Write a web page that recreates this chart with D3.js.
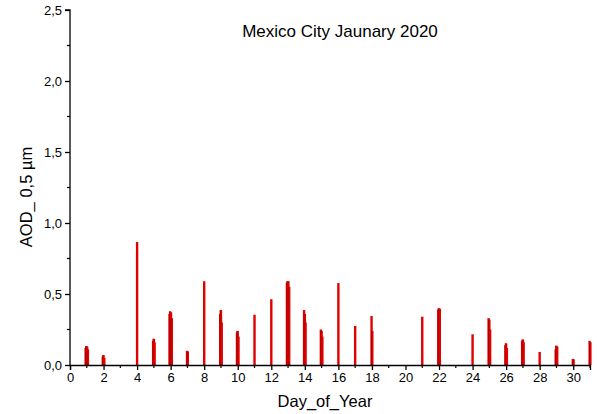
<!DOCTYPE html>
<html>
<head>
<meta charset="utf-8">
<script src="https://cdn.jsdelivr.net/npm/d3@7"></script>
<style>
body { margin: 0; background: #fff; }
text { font-family: "Liberation Sans", Arial, sans-serif; fill: #000; }
</style>
</head>
<body>
<svg id="chart" width="597" height="414"></svg>
<script>
// Days of January 2020 with measurements
const days = [1, 2, 4, 5, 6, 7, 8, 9, 10, 11, 12, 13, 14, 15, 16, 17, 18, 21, 22, 24, 25, 26, 27, 28, 29, 30, 31];
// AOD readings per day (several observations within each day)
const readings = [
  [0.12, 0.134, 0.13, 0.11],
  [0.06, 0.07, 0.05],
  [0.866],
  [0.17, 0.185, 0.16],
  [0.36, 0.378, 0.37, 0.33],
  [0.10, 0.095],
  [0.59],
  [0.36, 0.387, 0.30],
  [0.23, 0.24, 0.20],
  [0.354],
  [0.463],
  [0.58, 0.59, 0.59, 0.55],
  [0.387, 0.36, 0.30],
  [0.25, 0.24, 0.20],
  [0.577],
  [0.275],
  [0.345, 0.24],
  [0.34],
  [0.39, 0.40, 0.395],
  [0.216],
  [0.33, 0.32, 0.25],
  [0.14, 0.153, 0.12],
  [0.17, 0.18, 0.16],
  [0.092],
  [0.11, 0.136, 0.13],
  [0.042, 0.04],
  [0.17, 0.16]
];
// fraction of day between consecutive readings
const readingStep = 0.045;
const xTicks = d3.range(0, 31, 2);
const yTicks = [0, 0.5, 1.0, 1.5, 2.0, 2.5];
const title = "Mexico City Jaunary 2020";
const xTitle = "Day_of_Year";
const yTitle = "AOD_ 0,5 µm";

const svg = d3.select("#chart");
const m = { left: 70, right: 590, top: 10, bottom: 365 };
const x = d3.scaleLinear().domain([0, 31]).range([m.left, m.right]);
const y = d3.scaleLinear().domain([0, 2.5]).range([m.bottom, m.top]);

const obs = [];
days.forEach((d, i) => {
  const n = readings[i].length;
  readings[i].forEach((v, j) => {
    obs.push({ t: d + (j - (n - 1) / 2) * readingStep, v: v, j: j });
  });
});

const g = svg.append("g");
g.selectAll("line.r").data(obs).enter().append("line")
  .attr("x1", d => x(d.t)).attr("x2", d => x(d.t))
  .attr("y1", y(0)).attr("y2", d => y(d.v))
  .attr("stroke", "#e00000").attr("stroke-width", 2.4);
g.selectAll("line.d").data(obs.filter(d => d.j % 2 === 1)).enter().append("line")
  .attr("x1", d => x(d.t) - 0.8).attr("x2", d => x(d.t) - 0.8)
  .attr("y1", y(0)).attr("y2", d => y(d.v))
  .attr("stroke", "#9a0000").attr("stroke-width", 0.9).attr("opacity", 0.8);

// X axis
const xAxis = d3.axisBottom(x).tickValues(xTicks).tickSize(5).tickPadding(3).tickFormat(d3.format("d"));
const xg = svg.append("g").attr("transform", `translate(0,${m.bottom})`).call(xAxis);
xg.select(".domain").attr("stroke-width", 1.3);
xg.selectAll(".tick line").attr("stroke-width", 1.3);
xg.selectAll("text").attr("font-size", 13).attr("font-family", "Liberation Sans, Arial, sans-serif");
const xMinor = d3.range(1, 32, 2);
svg.append("g").selectAll("line").data(xMinor).enter().append("line")
  .attr("x1", d => x(d)).attr("x2", d => x(d))
  .attr("y1", m.bottom).attr("y2", m.bottom + 3)
  .attr("stroke", "#000").attr("stroke-width", 1.2);

// Y axis
const yAxis = d3.axisLeft(y).tickValues(yTicks).tickSize(5).tickPadding(3).tickFormat(d => d3.format(".1f")(d).replace(".", ","));
const yg = svg.append("g").attr("transform", `translate(${m.left},0)`).call(yAxis);
yg.select(".domain").attr("stroke-width", 1.3).attr("d", `M-5,${m.top}H0V${m.bottom}`);
yg.selectAll(".tick line").attr("stroke-width", 1.3);
yg.selectAll("text").attr("font-size", 13).attr("font-family", "Liberation Sans, Arial, sans-serif");
const yMinor = [0.25, 0.75, 1.25, 1.75, 2.25];
svg.append("g").selectAll("line").data(yMinor).enter().append("line")
  .attr("x1", m.left - 3).attr("x2", m.left)
  .attr("y1", d => y(d)).attr("y2", d => y(d))
  .attr("stroke", "#000").attr("stroke-width", 1.2);

// Titles
svg.append("text").attr("x", 340).attr("y", 37).attr("text-anchor", "middle")
  .attr("font-size", 17).text(title);
svg.append("text").attr("x", 325).attr("y", 407).attr("text-anchor", "middle")
  .attr("font-size", 16.5).text(xTitle);
svg.append("text").attr("transform", "translate(32,197) rotate(-90)").attr("text-anchor", "middle")
  .attr("font-size", 16.5).text(yTitle);
</script>
</body>
</html>
